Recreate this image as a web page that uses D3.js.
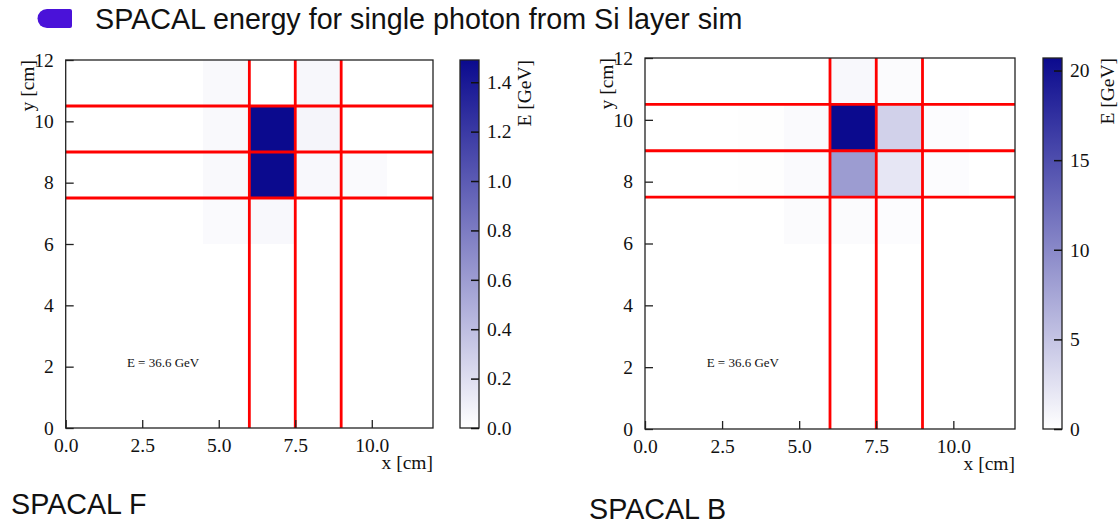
<!DOCTYPE html>
<html>
<head>
<meta charset="utf-8">
<script src="https://cdn.jsdelivr.net/npm/d3@7"></script>
<style>
  body { margin: 0; background: #fff; }
  svg { display: block; }
</style>
</head>
<body>
<div id="chart"></div>
<script>
// bin edges shared by both calorimeter maps (cm)
var binEdges = [0, 1.5, 3, 4.5, 6, 7.5, 9, 10.5, 12];
var xTicks = [0, 2.5, 5, 7.5, 10];
var yTicks = [0, 2, 4, 6, 8, 10, 12];
// red tower boundaries
var redX = [6, 7.5, 9];
var redY = [7.5, 9, 10.5];

// energy per cell in GeV, rows from top (y 10.5-12) to bottom (y 0-1.5)
var energyF = [
  [0, 0, 0, 0.037, 0, 0.05, 0, 0],
  [0, 0, 0, 0.037, 1.52, 0.06, 0, 0],
  [0, 0, 0, 0.037, 1.5, 0.04, 0.03, 0],
  [0, 0, 0, 0.03, 0.04, 0, 0, 0],
  [0, 0, 0, 0, 0, 0, 0, 0],
  [0, 0, 0, 0, 0, 0, 0, 0],
  [0, 0, 0, 0, 0, 0, 0, 0],
  [0, 0, 0, 0, 0, 0, 0, 0]
];
var energyB = [
  [0, 0, 0, 0, 0.6, 0.34, 0, 0],
  [0, 0, 0.1, 0.4, 20.7, 3.9, 0.25, 0],
  [0, 0, 0.1, 0.4, 8.4, 2.1, 0.25, 0],
  [0, 0, 0, 0.3, 0.3, 0.25, 0, 0],
  [0, 0, 0, 0, 0, 0, 0, 0],
  [0, 0, 0, 0, 0, 0, 0, 0],
  [0, 0, 0, 0, 0, 0, 0, 0],
  [0, 0, 0, 0, 0, 0, 0, 0]
];
var cbarTicksF = [0, 0.2, 0.4, 0.6, 0.8, 1.0, 1.2, 1.4];
var cbarTicksB = [0, 5, 10, 15, 20];
var vmaxF = 1.49;
var vmaxB = 20.7;

var title = 'SPACAL energy for single photon from Si layer sim';
var note = 'E = 36.6 GeV';

var width = 1118;
var height = 525;
var lowColor = '#ffffff';
var highColor = '#0b0a8e';
var serif = '"Liberation Serif", "Times New Roman", Times, serif';
var sans = '"Liberation Sans", Arial, Helvetica, sans-serif';

var svg = d3.select('#chart').append('svg')
  .attr('width', width)
  .attr('height', height);

var defs = svg.append('defs');

// header bullet + title
svg.append('path')
  .attr('d', 'M47,9 L70,9 Q72,9 72,11 L72,26 Q72,28 70,28 L47,28 A9.5,9.5 0 0 1 47,9 Z')
  .attr('fill', '#4a12d9');
svg.append('text')
  .attr('x', 95)
  .attr('y', 29)
  .style('font-family', sans)
  .style('font-size', '28.7px')
  .attr('fill', '#111')
  .text(title);

function styleText(sel, size) {
  sel.style('font-family', serif)
    .style('font-size', size + 'px')
    .attr('fill', '#111');
}

function drawPanel(cfg) {
  var x = d3.scaleLinear().domain([0, 12]).range([cfg.left, cfg.right]);
  var y = d3.scaleLinear().domain([0, 12]).range([cfg.bottom, cfg.top]);
  var color = d3.scaleLinear()
    .domain([0, cfg.vmax])
    .range([lowColor, highColor])
    .clamp(true);

  var g = svg.append('g');

  // cells
  var cells = [];
  cfg.data.forEach(function(row, r) {
    var j = row.length - 1 - r;
    row.forEach(function(v, i) {
      if (v > 0) cells.push({ i: i, j: j, v: v });
    });
  });
  g.append('g').selectAll('rect')
    .data(cells)
    .enter().append('rect')
    .attr('x', d => x(binEdges[d.i]))
    .attr('y', d => y(binEdges[d.j + 1]))
    .attr('width', d => x(binEdges[d.i + 1]) - x(binEdges[d.i]))
    .attr('height', d => y(binEdges[d.j]) - y(binEdges[d.j + 1]))
    .attr('fill', d => color(d.v))
    .attr('shape-rendering', 'crispEdges');

  // red tower boundaries
  g.append('g').selectAll('line')
    .data(redX)
    .enter().append('line')
    .attr('x1', d => x(d)).attr('x2', d => x(d))
    .attr('y1', cfg.top).attr('y2', cfg.bottom)
    .attr('stroke', '#ff0000')
    .attr('stroke-width', 2.8);
  g.append('g').selectAll('line')
    .data(redY)
    .enter().append('line')
    .attr('x1', cfg.left).attr('x2', cfg.right)
    .attr('y1', d => y(d)).attr('y2', d => y(d))
    .attr('stroke', '#ff0000')
    .attr('stroke-width', 2.8);

  // axes, ticks pointing inward
  var xAxis = g.append('g')
    .attr('transform', `translate(0,${cfg.bottom})`)
    .call(d3.axisBottom(x).tickValues(xTicks).tickFormat(d3.format('.1f'))
      .tickSize(-8).tickPadding(10));
  var yAxis = g.append('g')
    .attr('transform', `translate(${cfg.left},0)`)
    .call(d3.axisLeft(y).tickValues(yTicks).tickFormat(d3.format('d'))
      .tickSize(-8).tickPadding(12));
  [xAxis, yAxis].forEach(function(a) {
    a.select('.domain').remove();
    a.selectAll('line').attr('stroke', '#222').attr('stroke-width', 1.3);
    styleText(a.selectAll('text'), 19.5);
  });

  // frame
  g.append('rect')
    .attr('x', cfg.left).attr('y', cfg.top)
    .attr('width', cfg.right - cfg.left)
    .attr('height', cfg.bottom - cfg.top)
    .attr('fill', 'none')
    .attr('stroke', '#222')
    .attr('stroke-width', 1.3);

  // axis labels (right / top aligned)
  g.append('text')
    .attr('x', cfg.right)
    .attr('y', cfg.bottom + 41)
    .attr('text-anchor', 'end')
    .text('x [cm]')
    .call(styleText, 19.5);
  g.append('text')
    .attr('transform', `translate(${cfg.left - 32},${cfg.top}) rotate(-90)`)
    .attr('text-anchor', 'end')
    .text('y [cm]')
    .call(styleText, 19.5);

  g.append('text')
    .attr('x', x(2))
    .attr('y', y(2))
    .text(note)
    .call(styleText, 13);

  // colorbar
  var gradId = 'grad-' + cfg.id;
  var grad = defs.append('linearGradient')
    .attr('id', gradId)
    .attr('x1', 0).attr('y1', 1).attr('x2', 0).attr('y2', 0);
  grad.append('stop').attr('offset', '0%').attr('stop-color', lowColor);
  grad.append('stop').attr('offset', '100%').attr('stop-color', highColor);

  var cy = d3.scaleLinear().domain([0, cfg.vmax]).range([cfg.bottom, cfg.top]);
  g.append('rect')
    .attr('x', cfg.cbLeft).attr('y', cfg.top)
    .attr('width', cfg.cbWidth)
    .attr('height', cfg.bottom - cfg.top)
    .attr('fill', `url(#${gradId})`)
    .attr('stroke', '#222')
    .attr('stroke-width', 1.3);
  var cAxis = g.append('g')
    .attr('transform', `translate(${cfg.cbLeft + cfg.cbWidth},0)`)
    .call(d3.axisRight(cy).tickValues(cfg.cbTicks).tickFormat(d3.format(cfg.cbFormat))
      .tickSize(-8).tickPadding(8));
  cAxis.select('.domain').remove();
  cAxis.selectAll('line').attr('stroke', '#111').attr('stroke-width', 1.5);
  styleText(cAxis.selectAll('text'), 19.5);

  g.append('text')
    .attr('transform', `translate(${cfg.cbLeft + cfg.cbWidth + 52},${cfg.top}) rotate(-90)`)
    .attr('text-anchor', 'end')
    .text('E [GeV]')
    .call(styleText, 19.5);

  // panel caption
  svg.append('text')
    .attr('x', cfg.capX)
    .attr('y', cfg.capY)
    .style('font-family', sans)
    .style('font-size', '28.7px')
    .attr('fill', '#111')
    .text(cfg.caption);
}

drawPanel({
  id: 'F', data: energyF, vmax: vmaxF, cbTicks: cbarTicksF, cbFormat: '.1f',
  left: 65.7, right: 433, top: 60, bottom: 428,
  cbLeft: 460, cbWidth: 19,
  caption: 'SPACAL F', capX: 11, capY: 514
});
drawPanel({
  id: 'B', data: energyB, vmax: vmaxB, cbTicks: cbarTicksB, cbFormat: 'd',
  left: 645, right: 1015, top: 58, bottom: 429,
  cbLeft: 1043, cbWidth: 19,
  caption: 'SPACAL B', capX: 589, capY: 519
});
</script>
</body>
</html>
